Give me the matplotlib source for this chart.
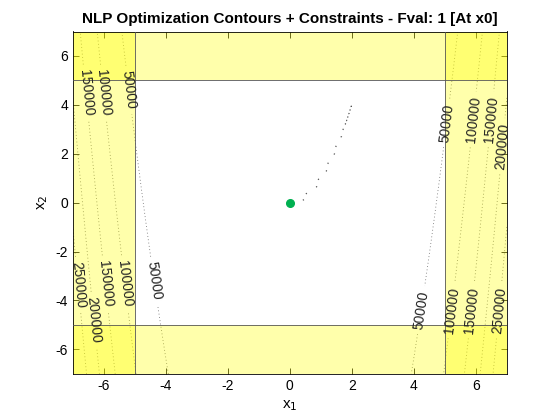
import numpy as np
import matplotlib
matplotlib.use("Agg")
import matplotlib.pyplot as plt

plt.rcParams['font.family'] = ['Liberation Sans', 'DejaVu Sans']
plt.rcParams['axes.unicode_minus'] = False

# Data
title = "NLP Optimization Contours + Constraints - Fval: 1 [At x0]"
x_limits = [-7, 7]
y_limits = [-7, 7]
lower_bounds = [-5, -5]
upper_bounds = [5, 5]
x0 = [0, 0]
fval = 1
contour_levels = [50000, 100000, 150000, 200000, 250000]
ticks = [-6, -4, -2, 0, 2, 4, 6]

def rosen(x1, x2):
    return 100.0 * (x2 - x1 ** 2) ** 2 + (1 - x1) ** 2

fig = plt.figure(figsize=(5.6, 4.2), dpi=100)
ax = fig.add_axes([0.13, 0.11, 0.775, 0.815])

xs = np.linspace(x_limits[0], x_limits[1], 400)
ys = np.linspace(y_limits[0], y_limits[1], 400)
X, Y = np.meshgrid(xs, ys)
Z = rosen(X, Y)

cs1 = ax.contour(X, Y, Z, levels=[fval], colors='#555555',
                 linewidths=0.9, zorder=1)
cs1.set_linestyle((0, (1, 14)))
cs = ax.contour(X, Y, Z, levels=contour_levels, colors='#6a6a6a',
                linewidths=0.6, zorder=1)
cs.set_linestyle((0, (1, 3)))

# constraint shading
yel = (1.0, 1.0, 0.0)
a = 0.33
ax.axvspan(x_limits[0], lower_bounds[0], color=yel, alpha=a, lw=0, zorder=2)
ax.axvspan(upper_bounds[0], x_limits[1], color=yel, alpha=a, lw=0, zorder=2)
ax.axhspan(y_limits[0], lower_bounds[1], color=yel, alpha=a, lw=0, zorder=2)
ax.axhspan(upper_bounds[1], y_limits[1], color=yel, alpha=a, lw=0, zorder=2)
for v in (lower_bounds[0], upper_bounds[0]):
    ax.axvline(v, color='#555555', lw=0.6, zorder=3)
for v in (lower_bounds[1], upper_bounds[1]):
    ax.axhline(v, color='#555555', lw=0.6, zorder=3)

label_pos = [(-6.6, 4.5), (-6.0, 4.5), (-5.25, 4.6),
             (5.1, 3.25), (5.95, 3.4), (6.56, 3.4), (6.9, 2.3),
             (-6.86, -3.37), (-5.95, -3.3), (-5.37, -3.3), (-6.35, -4.8), (-4.4, -3.2),
             (4.27, -4.4), (5.2, -4.4), (5.8, -4.4), (6.7, -4.4)]
lbls = ax.clabel(cs, inline=True, fontsize=10, fmt='%d',
                 manual=label_pos, colors='#222222')
for t in lbls:
    t.set_zorder(4)

ax.plot(x0[0], x0[1], 'o', color='#00b050', markersize=5.5, zorder=5)

ax.set_xlim(x_limits)
ax.set_ylim(y_limits)
ax.set_xticks(ticks)
ax.set_yticks(ticks)
ax.tick_params(direction='in', top=True, right=True, labelsize=10, length=4, width=0.6)
for s in ax.spines.values():
    s.set_linewidth(0.6)
ax.set_xlabel('x$_1$', fontsize=11)
ax.set_ylabel('x$_2$', fontsize=11)
ax.set_title(title, fontsize=11, fontweight='bold')

fig.savefig('out.png', dpi=100)
